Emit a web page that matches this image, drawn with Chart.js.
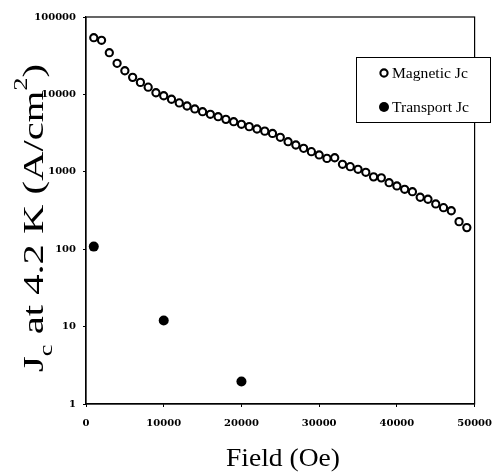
<!DOCTYPE html>
<html>
<head>
<meta charset="utf-8">
<script src="https://cdn.jsdelivr.net/npm/chart.js@4"></script>
<style>
  html, body { margin: 0; padding: 0; background: #fff; }
  #wrap { width: 502px; height: 474px; }
</style>
</head>
<body>
<div id="wrap"><canvas id="c" width="502" height="474"></canvas></div>
<script>
// ---- data ----
const magneticField = [1000, 2000, 3000, 4000, 5000, 6000, 7000, 8000, 9000, 10000,
  11000, 12000, 13000, 14000, 15000, 16000, 17000, 18000, 19000, 20000,
  21000, 22000, 23000, 24000, 25000, 26000, 27000, 28000, 29000, 30000,
  31000, 32000, 33000, 34000, 35000, 36000, 37000, 38000, 39000, 40000,
  41000, 42000, 43000, 44000, 45000, 46000, 47000, 48000, 49000];
const magneticJc = [54000, 50000, 34600, 25200, 20200, 16600, 14300, 12400, 10500, 9600,
  8650, 7760, 7080, 6490, 5980, 5530, 5150, 4760, 4440, 4110,
  3830, 3570, 3350, 3130, 2790, 2450, 2220, 2010, 1820, 1650,
  1490, 1520, 1250, 1165, 1077, 985, 860, 835, 723, 656,
  594, 553, 469, 442, 384, 344, 314, 227, 190];
const transportField = [1000, 10000, 20000];
const transportJc = [108, 12, 1.95];
const xTicks = [0, 10000, 20000, 30000, 40000, 50000];
const yTicks = [1, 10, 100, 1000, 10000, 100000];
const seriesNames = ['Magnetic Jc', 'Transport Jc'];
const xTitle = 'Field (Oe)';
const yTitleParts = [['J', ''], ['c', 'sub'], [' at 4.2 K (A/cm', ''], ['2', 'sup'], [')', '']];

const toPts = (xs, ys) => xs.map((x, i) => ({ x: x, y: ys[i] }));

function drawRich(ctx, parts, size, family) {
  let w = 0;
  const items = parts.map(([t, kind]) => {
    const s = kind ? size * 0.65 : size;
    ctx.font = s + 'px ' + family;
    const tw = ctx.measureText(t).width;
    const it = { t, s, kind, x: w, w: tw };
    w += tw;
    return it;
  });
  return { items, width: w };
}
function paintRich(ctx, rich, family, x0) {
  rich.items.forEach(it => {
    ctx.font = it.s + 'px ' + family;
    let dy = 0;
    if (it.kind === 'sub') dy = it.s * 0.45;
    if (it.kind === 'sup') dy = -it.s * 0.8;
    ctx.fillText(it.t, x0 + it.x, dy);
  });
}

const framePlugin = {
  id: 'frame',
  beforeDatasetsDraw(chart) {
    const { ctx, chartArea: a } = chart;
    ctx.save();
    ctx.strokeStyle = '#000';
    ctx.lineWidth = 1.2;
    ctx.strokeRect(a.left, a.top, a.right - a.left, a.bottom - a.top);
    ctx.restore();
  },
  afterDraw(chart) {
    const ctx = chart.ctx;
    const fam = '"Liberation Serif", "Times New Roman", serif';
    ctx.save();
    ctx.fillStyle = '#000';
    ctx.textBaseline = 'alphabetic';
    ctx.textAlign = 'left';
    // x title
    const xr = drawRich(ctx, [[xTitle, '']], 26, fam);
    ctx.save();
    ctx.translate(283, 466);
    ctx.scale(114 / xr.width, 1);
    paintRich(ctx, xr, fam, -xr.width / 2);
    ctx.restore();
    // y title
    const yr = drawRich(ctx, yTitleParts, 30, fam);
    ctx.save();
    ctx.translate(43, 218);
    ctx.rotate(-Math.PI / 2);
    ctx.scale(308 / yr.width, 1);
    paintRich(ctx, yr, fam, -yr.width / 2);
    ctx.restore();
    // legend
    const bx = 356.5, by = 57.5, bw = 134, bh = 65;
    ctx.fillStyle = '#fff';
    ctx.fillRect(bx, by, bw, bh);
    ctx.strokeStyle = '#000';
    ctx.lineWidth = 1;
    ctx.strokeRect(bx, by, bw, bh);
    const rows = [73, 107];
    chart.data.datasets.forEach((ds, i) => {
      const y = rows[i];
      ctx.beginPath();
      ctx.arc(384, y, ds.pointRadius, 0, Math.PI * 2);
      ctx.fillStyle = ds.backgroundColor;
      ctx.fill();
      if (ds.pointBorderWidth) {
        ctx.lineWidth = ds.pointBorderWidth;
        ctx.strokeStyle = ds.borderColor;
        ctx.stroke();
      }
      ctx.fillStyle = '#000';
      ctx.font = '15px ' + fam;
      ctx.textBaseline = 'middle';
      ctx.save();
      ctx.translate(392, y + 1);
      ctx.scale(1.04, 1);
      ctx.fillText(ds.label, 0, 0);
      ctx.restore();
    });
    ctx.restore();
  }
};

const tickFont = { family: '"DejaVu Serif", serif', size: 10, weight: 'bold' };

new Chart(document.getElementById('c'), {
  type: 'scatter',
  data: {
    datasets: [
      {
        label: seriesNames[0],
        data: toPts(magneticField, magneticJc),
        pointRadius: 3.6,
        pointBorderWidth: 2.1,
        borderColor: '#000',
        backgroundColor: '#fff',
        pointHoverRadius: 3.6
      },
      {
        label: seriesNames[1],
        data: toPts(transportField, transportJc),
        pointRadius: 5,
        pointBorderWidth: 0,
        borderColor: '#000',
        backgroundColor: '#000',
        pointHoverRadius: 5
      }
    ]
  },
  options: {
    responsive: false,
    animation: false,
    devicePixelRatio: 1,
    layout: { padding: { left: 0, right: 23, top: 17, bottom: 0 } },
    plugins: { legend: { display: false }, tooltip: { enabled: false }, title: { display: false } },
    scales: {
      x: {
        type: 'linear',
        min: 0, max: 50000,
        afterBuildTicks: s => { s.ticks = xTicks.map(v => ({ value: v })); },
        afterFit: s => { s.height = 70; },
        ticks: { font: tickFont, color: '#000', padding: 10, maxRotation: 0, callback: v => String(v) },
        grid: { display: true, drawOnChartArea: false, drawTicks: true, tickLength: 3, color: '#000' },
        border: { display: true, color: '#000', width: 1.2 },
        title: { display: false }
      },
      y: {
        type: 'logarithmic',
        min: 1, max: 100000,
        afterBuildTicks: s => { s.ticks = yTicks.map(v => ({ value: v })); },
        afterFit: s => { s.width = 86; },
        ticks: { font: tickFont, color: '#000', padding: 7, callback: v => String(v) },
        grid: { display: true, drawOnChartArea: false, drawTicks: true, tickLength: 3, color: '#000' },
        border: { display: true, color: '#000', width: 1.2 },
        title: { display: false }
      }
    }
  },
  plugins: [framePlugin]
});
</script>
</body>
</html>
